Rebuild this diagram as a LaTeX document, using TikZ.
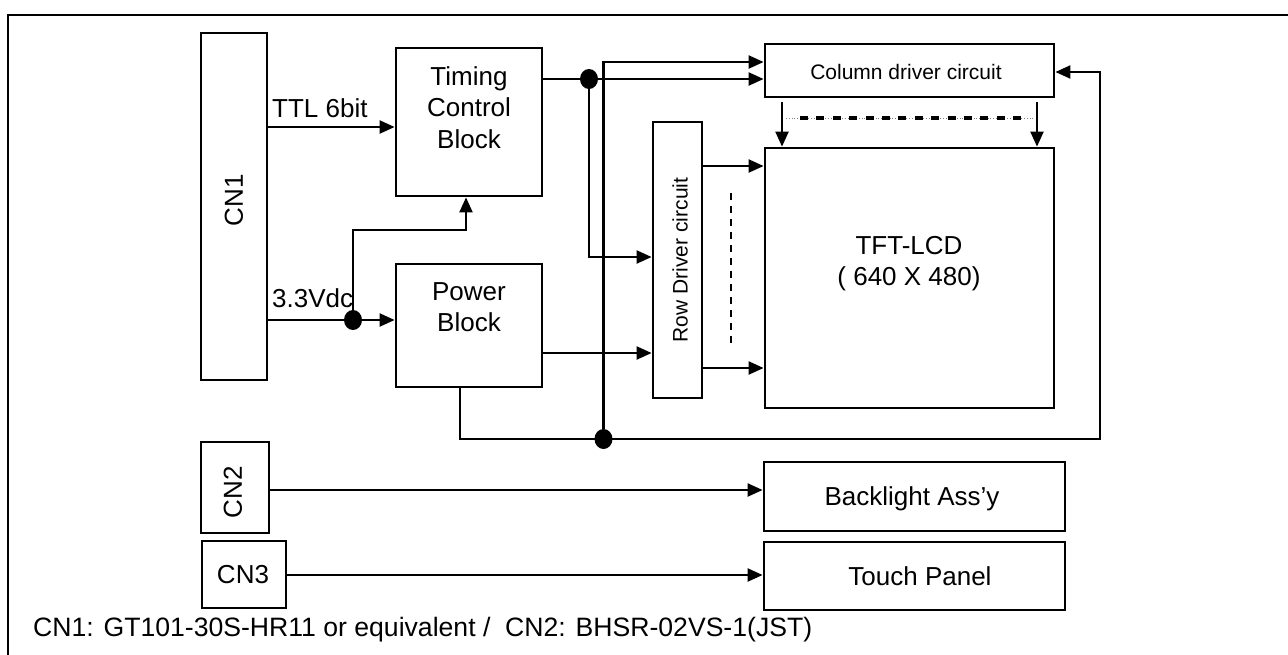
\documentclass[tikz,border=0pt]{standalone}
\usepackage{fontspec}
\setmainfont{Liberation Sans}
\usetikzlibrary{arrows.meta,shapes.geometric}
\newcommand\myfa{\fontsize{26}{31.5}\selectfont}
\newcommand\myfb{\fontsize{21}{25}\selectfont}
\begin{document}
\begin{tikzpicture}[x=1pt,y=-1pt,
  box/.style={draw,line width=2.8pt,inner sep=0pt},
  wire/.style={line width=2.2pt},
  arr/.style={wire,-{Triangle[length=15pt,width=13pt]}},
  dotn/.style={ellipse,fill,inner sep=0pt,minimum width=18pt,minimum height=20pt},
  lbl/.style={font=\myfa,inner sep=0pt,align=center},
  slbl/.style={font=\myfb,inner sep=0pt,align=center}]
\useasboundingbox (0,0) rectangle (1288,654);
\draw[line width=2pt] (8,656) -- (8,15) -- (1290,15);

% boxes
\node[box,minimum width=66pt,minimum height=347pt] (cn1) at (234,206.5) {};
\node[box,minimum width=146pt,minimum height=148pt] (timing) at (469,122) {};
\node[box,minimum width=146pt,minimum height=123pt] (power) at (469,325.5) {};
\node[box,minimum width=49pt,minimum height=276pt] (row) at (677.5,260) {};
\node[box,minimum width=289pt,minimum height=53pt] (col) at (909.5,70.5) {};
\node[box,minimum width=289pt,minimum height=260pt] (tft) at (909.5,278) {};
\node[box,minimum width=68pt,minimum height=91pt] (cn2) at (235,487.5) {};
\node[box,minimum width=84pt,minimum height=67pt] (cn3) at (244,574.5) {};
\node[box,minimum width=301pt,minimum height=69pt] (back) at (914.5,496.5) {};
\node[box,minimum width=301pt,minimum height=68pt] (touch) at (914.5,576) {};

% texts
\node[lbl,rotate=90] (cn1t) at (234,200) {CN1};
\node[lbl,anchor=north] (timingt) at (469,66) {Timing\\Control\\Block};
\node[lbl,anchor=north] (powert) at (469,282) {Power\\Block};
\node[slbl,rotate=90] (rowt) at (680,260) {Row Driver circuit};
\node[slbl] (colt) at (906,72) {Column driver circuit};
\node[lbl,anchor=north] (tftt) at (909,236) {TFT-LCD\\( 640 X 480)};
\node[lbl,rotate=90] (cn2t) at (233,492) {CN2};
\node[lbl] (cn3t) at (243,574.5) {CN3};
\node[lbl] (backt) at (912,499) {Backlight Ass’y};
\node[lbl] (toucht) at (920,576) {Touch Panel};
\node[lbl,anchor=base west] (ttlt) at (272,117) {TTL 6bit};
\node[lbl,anchor=base west] (vdct) at (272,307) {3.3Vdc};
\node[lbl,anchor=base west,font=\fontsize{26.6}{30}\selectfont] (note) at (33,636) {CN1: GT101-30S-HR11 or equivalent /\ \ CN2: BHSR-02VS-1(JST)};

% junction dots
\node[dotn] (d1) at (589,79) {};
\node[dotn] (d2) at (353,320) {};
\node[dotn] (d3) at (603.5,439) {};

% helper coordinates
\coordinate (pTTL) at (0,127);
\coordinate (pRowIn) at (0,257);
\coordinate (pColIn) at (0,62);
\coordinate (pPow) at (0,353);
\coordinate (pFb) at (0,72);
\coordinate (fb) at (1100,439);
\coordinate (pb) at (460,0);
\coordinate (pT) at (0,230);
\coordinate (pTx) at (466,0);
\coordinate (pR1) at (0,166);
\coordinate (pR2) at (0,368);
\coordinate (ca) at (782,102);
\coordinate (cb) at (1037,102);
\coordinate (pc2) at (0,490);
\coordinate (pc3) at (0,575);

% connectors
\draw[arr] (cn1.east |- pTTL) -- (timing.west |- pTTL);
\draw[wire] (timing.east |- d1) -- (d1);
\draw[arr] (d1) -- (col.west |- d1);
\draw[arr] (d1) -- (d1 |- pRowIn) -- (row.west |- pRowIn);
\draw[arr] (d3) -- (d3 |- pColIn) -- (col.west |- pColIn);
\draw[arr] (power.east |- pPow) -- (row.west |- pPow);
\draw[arr] (pb |- power.south) -- (pb |- fb) -- (fb) -- (fb |- pFb) -- (col.east |- pFb);
\draw[arr] (cn1.east |- d2) -- (power.west |- d2);
\draw[arr] (d2) -- (d2 |- pT) -- (pTx |- pT) -- (pTx |- timing.south);
\draw[arr] (row.east |- pR1) -- (tft.west |- pR1);
\draw[arr] (row.east |- pR2) -- (tft.west |- pR2);
\draw[wire,dash pattern=on 7pt off 6pt] (731,193) -- (731,345);
\draw[arr] (ca) -- (ca |- tft.north);
\draw[arr] (cb) -- (cb |- tft.north);
\draw[gray,line width=0.8pt,dotted] (786,118) -- (1033,118);
\draw[line width=4pt,dash pattern=on 8pt off 8.4pt] (800,118) -- (1022,118);
\draw[arr] (cn2.east |- pc2) -- (back.west |- pc2);
\draw[arr] (cn3.east |- pc3) -- (touch.west |- pc3);
\end{tikzpicture}
\end{document}
